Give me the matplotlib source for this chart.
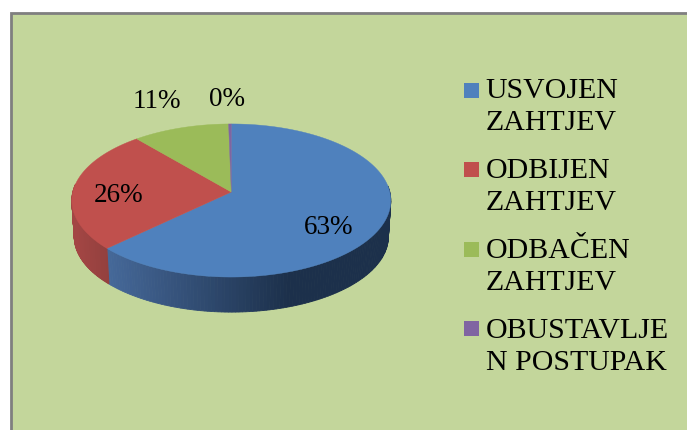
import numpy as np
import matplotlib
matplotlib.use('Agg')
import matplotlib.pyplot as plt
from matplotlib.patches import Polygon, Rectangle

labels = ['USVOJEN\nZAHTJEV', 'ODBIJEN\nZAHTJEV', 'ODBAČEN\nZAHTJEV', 'OBUSTAVLJE\nN POSTUPAK']
values = [62.9, 25.9, 10.9, 0.3]
pct_labels = ['63%', '26%', '11%', '0%']
colors = ['#4f81bd', '#c0504d', '#9bbb59', '#8064a2']
side_light = ['#46699a', '#a34644', '#84a04c', '#6d5589']
side_dark = ['#1c304b', '#93403e', '#84a04c', '#6d5589']

# pie geometry in pixels
cx, cy = 231.3, 192
A, B, k = 158.5, 75.6, 0.111
depth = 36.5


def project(theta, scale=1.0, dy=0):
    # theta clockwise from 12 o'clock, back of the pie is a bit smaller
    x = np.sin(theta) * scale
    y = np.cos(theta) * scale
    d = 1 + k * y
    return cx + A * x / d, cy - B * y / d + dy


fig = plt.figure(figsize=(6.87, 4.30), dpi=100)
ax = fig.add_axes([0, 0, 1, 1])
ax.set_xlim(0, 687)
ax.set_ylim(430, 0)
ax.axis('off')

ax.add_patch(Rectangle((11, 13), 690, 430, facecolor='#c3d69b', edgecolor='#7f7f7f', linewidth=2))

edges = 2 * np.pi * np.cumsum([0] + values) / sum(values)

# side wall, drawn in thin strips for the shading
for i in range(len(values)):
    t = np.linspace(edges[i], edges[i + 1], 200)
    for j in range(len(t) - 1):
        if np.cos(t[j]) > 0.1:
            continue
        x1, y1 = project(t[j:j + 2])
        x2, y2 = project(t[j:j + 2], scale=0.985, dy=depth)
        # shade goes from light on the left to dark on the right
        if i == 0:
            f = np.clip((x1[0] - 107) / (290 - 107), 0, 1)
        else:
            f = np.clip((x1[0] - 75) / 33, 0, 1)
        c0 = np.array(matplotlib.colors.to_rgb(side_light[i]))
        c1 = np.array(matplotlib.colors.to_rgb(side_dark[i]))
        col = c0 + (c1 - c0) * f
        ax.add_patch(Polygon(np.c_[np.r_[x1, x2[::-1]], np.r_[y1, y2[::-1]]], closed=True,
                             facecolor=col, edgecolor=col, linewidth=0.6))

# top face
for i in range(len(values)):
    t = np.linspace(edges[i], edges[i + 1], 300)
    x, y = project(t)
    ax.add_patch(Polygon(np.c_[np.r_[cx, x], np.r_[cy, y]], closed=True,
                         facecolor=colors[i], edgecolor=colors[i], linewidth=0.3))

font = ['Liberation Serif', 'DejaVu Serif']
lab_pos = [(329, 228), (119, 195), (157, 102), (227, 100)]
for s, (px, py) in zip(pct_labels, lab_pos):
    ax.text(px, py, s, fontsize=19.5, family=font, ha='center', va='center', color='black')

# legend
leg_y = [91, 170, 250, 329]
leg_text_y = [78.5, 158.5, 238, 317.5]
for name, c, ly, ty in zip(labels, colors, leg_y, leg_text_y):
    ax.add_patch(Rectangle((464, ly - 8), 15, 15, facecolor=c, edgecolor='none'))
    ax.text(485.5, ty, name, fontsize=21.5, family=font, ha='left', va='top',
            color='black', linespacing=1.3)

fig.savefig('out.png', dpi=100)
